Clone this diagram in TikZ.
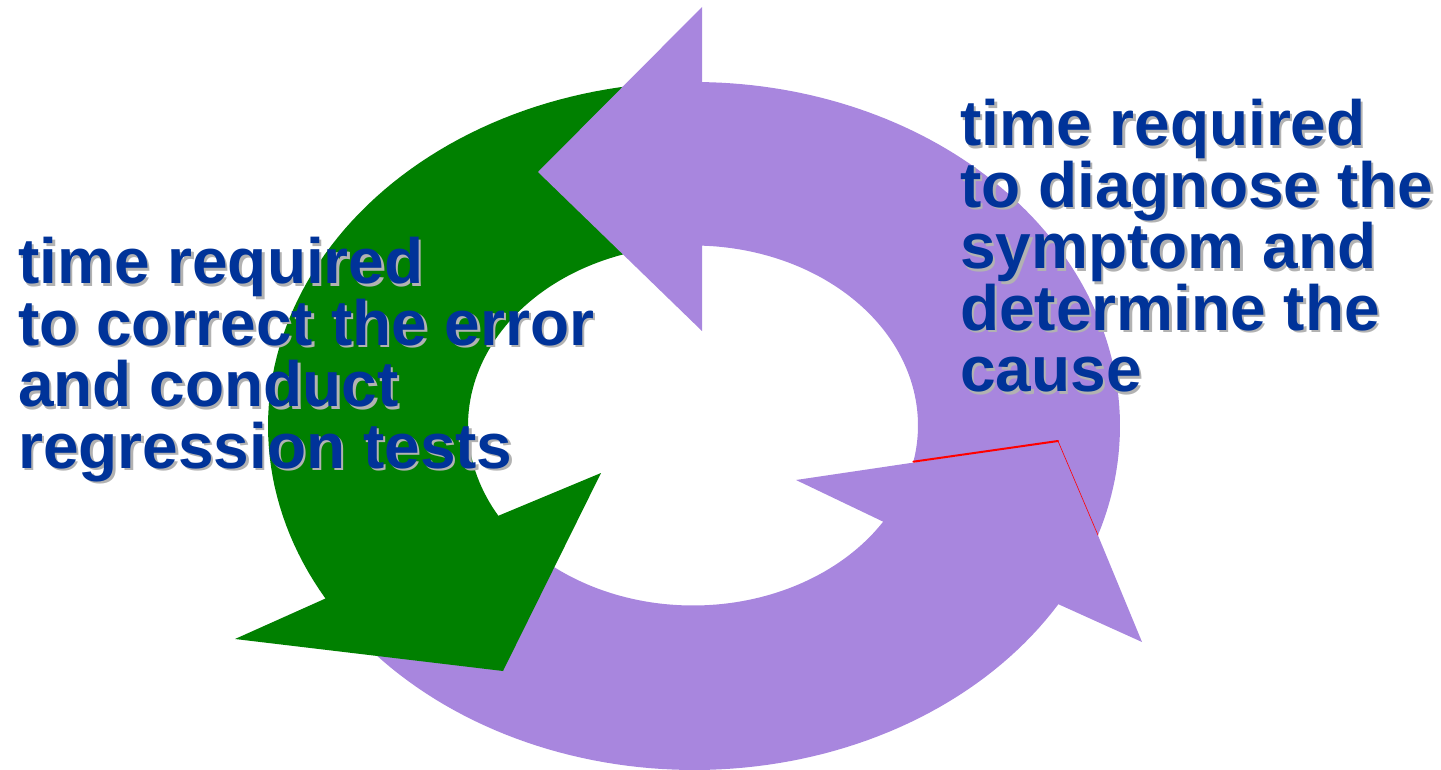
\documentclass[tikz,border=0pt]{standalone}
\usepackage{fontspec}
\setmainfont{Liberation Sans}
\definecolor{ringpurple}{RGB}{168,134,222}
\definecolor{ringgreen}{RGB}{0,128,0}
\definecolor{labelblue}{RGB}{0,51,153}
\definecolor{labelshadow}{RGB}{178,178,178}
\definecolor{cutred}{RGB}{255,0,0}

\begin{document}
\begin{tikzpicture}[x=1pt,y=-1pt,
  purplearrow/.style={fill=ringpurple},
  greenarrow/.style={fill=ringgreen},
  cutline/.style={draw=cutred,line cap=round},
  caption/.style={anchor=north west,inner sep=0pt,align=left,
    font=\fontsize{64}{61.5}\selectfont\bfseries,text=labelblue},
  captionshade/.style={caption,text=labelshadow}]
\useasboundingbox (0,0) rectangle (1441,770);

% ring: outer ellipse centre (694,426) radii 426/344, inner centre (693,425.5) radii 225/180

% lower purple arrow, running along the bottom of the ring
\path[purplearrow]
  plot[domain=140:31.2,samples=70,variable=\t] ({694+426*cos(\t)},{426+344*sin(\t)})
  -- (1142,642) -- (1059,441) -- (796,480)
  -- plot[domain=32.3:140,samples=70,variable=\t] ({693+225*cos(\t)},{425.5+180*sin(\t)})
  -- cycle;

% green arrow, running down the left side
\path[greenarrow]
  plot[domain=265:149.9,samples=70,variable=\t] ({694+426*cos(\t)},{426+344*sin(\t)})
  -- (235,639) -- (503,671) -- (601,473)
  -- plot[domain=149.9:265,samples=70,variable=\t] ({693+225*cos(\t)},{425.5+180*sin(\t)})
  -- cycle;

% upper purple arrow, running up the right side and over the top
\coordinate (tailin) at ({693+225*cos(11.6)},{425.5+180*sin(11.6)});
\coordinate (tailmid) at (1058,441);
\coordinate (tailout) at ({694+426*cos(18.5)},{426+344*sin(18.5)});
\path[purplearrow]
  plot[domain=18.5:-89,samples=80,variable=\t] ({694+426*cos(\t)},{426+344*sin(\t)})
  -- (702,82) -- (702,7) -- (538,172) -- (702,331) -- (702,245.5)
  -- plot[domain=-87.7:11.6,samples=80,variable=\t] ({693+225*cos(\t)},{425.5+180*sin(\t)})
  -- (tailmid) -- cycle;
\draw[cutline,line width=2pt] (tailin) -- (tailmid);
\draw[cutline,line width=0.6pt] (tailmid) -- (tailout);

% captions with drop shadows
\node[captionshade] (diagshade) at (962.5,101.5) {time required\\to diagnose the\\symptom and\\determine the\\cause};
\node[caption] (diag) at (960,99) {time required\\to diagnose the\\symptom and\\determine the\\cause};
\node[captionshade] (fixshade) at (20.5,239.5) {time required\\to correct the error\\and conduct\\regression tests};
\node[caption] (fix) at (18,237) {time required\\to correct the error\\and conduct\\regression tests};
\end{tikzpicture}
\end{document}
